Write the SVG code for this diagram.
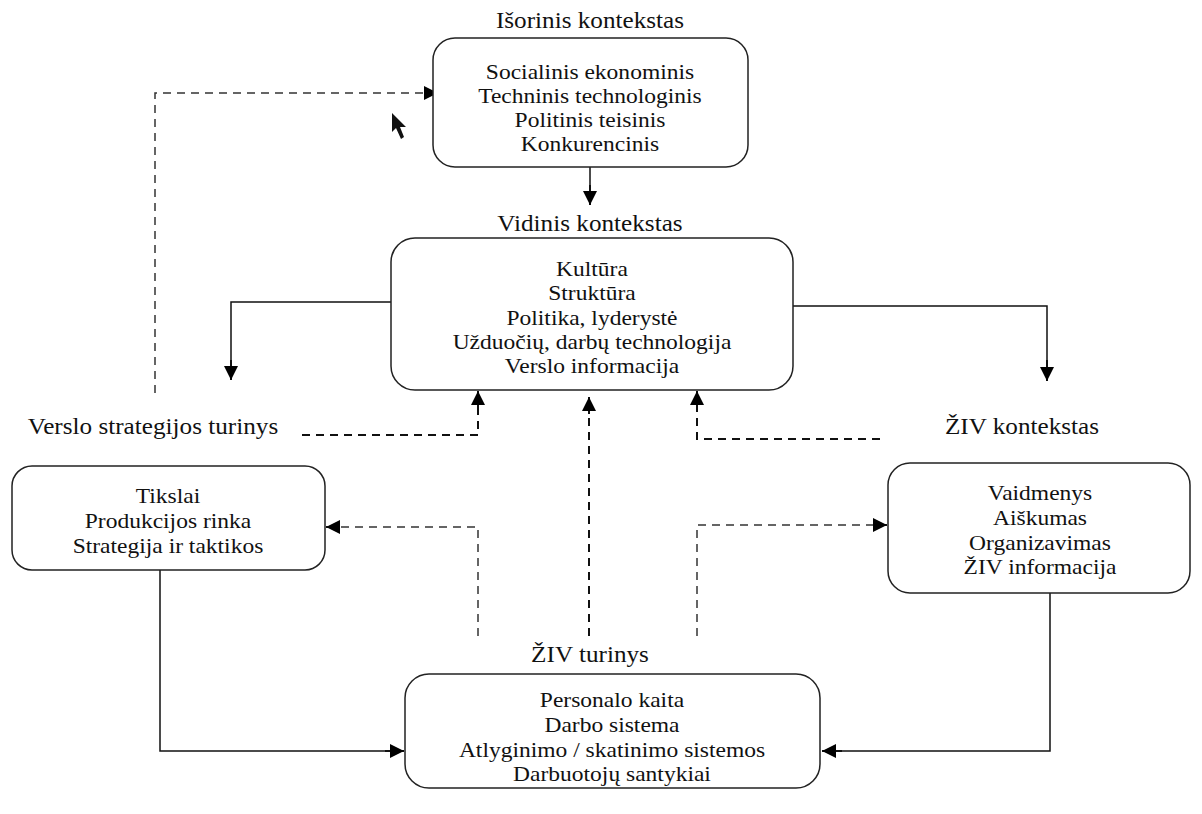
<svg xmlns="http://www.w3.org/2000/svg" width="1202" height="814" viewBox="0 0 1202 814">
<defs>
<marker id="ah" viewBox="0 0 10 10" refX="10" refY="5" markerWidth="14" markerHeight="14" markerUnits="userSpaceOnUse" orient="auto"><path d="M0,0 L10,5 L0,10 Z" fill="#000"/></marker>
</defs>
<style>
text{font-family:"Liberation Serif","Times New Roman",serif;font-size:21px;fill:#111;text-anchor:middle;transform-box:fill-box;transform-origin:center;transform:scaleX(1.12)}
.hd{font-size:22.5px}
.box{fill:#fff;stroke:#222;stroke-width:1.5}
.solid{fill:none;stroke:#111;stroke-width:1.5}
.arr{fill:none;stroke:#111;stroke-width:2;marker-end:url(#ah)}
.dash{fill:none;stroke:#111;stroke-width:2;stroke-dasharray:8,6}
.dashthin{fill:none;stroke:#333;stroke-width:1.5;stroke-dasharray:8,6}
</style>
<rect width="1202" height="814" fill="#fff"/>
<g id="connectors">
<path class="solid" d="M590,167 L590,190"/><path class="arr" d="M590,185 L590,205"/>
<path class="solid" d="M391,302 L231,302 L231,365"/><path class="arr" d="M231,360 L231,380"/>
<path class="solid" d="M793,306 L1047,306 L1047,366"/><path class="arr" d="M1047,360 L1047,381"/>
<path class="dashthin" d="M155,393 L155,93 L430,93"/><path class="arr" d="M425,93 L438,93"/>
<path class="dash" d="M302,435 L478,435 L478,405"/><path class="arr" d="M478,410 L478,391"/>
<path class="dash" d="M589,636 L589,410"/><path class="arr" d="M589,414 L589,397"/>
<path class="dash" d="M880,439 L697,439 L697,405"/><path class="arr" d="M697,410 L697,391"/>
<path class="dashthin" d="M478,636 L478,527 L340,527"/><path class="arr" d="M340,527 L326,527"/>
<path class="dashthin" d="M697,636 L697,525 L875,525"/><path class="arr" d="M873,525 L887,525"/>
<path class="solid" d="M160,570 L160,751 L390,751"/><path class="arr" d="M385,751 L404,751"/>
<path class="solid" d="M1050,593 L1050,751 L840,751"/><path class="arr" d="M842,751 L822,751"/>
</g>
<g id="cursor"><path d="M392,113 L392,132 L396,128 L401,139 L404,137 L400,127 L406,127 Z" fill="#111"/></g>
<g id="isorinis">
<text class="hd" x="590" y="28">Išorinis kontekstas</text>
<rect class="box" x="433" y="38" width="315" height="129" rx="22"/>
<text x="590" y="79">Socialinis ekonominis</text>
<text x="590" y="103">Techninis technologinis</text>
<text x="590" y="127">Politinis teisinis</text>
<text x="590" y="151">Konkurencinis</text>
</g>
<g id="vidinis">
<text class="hd" x="590" y="231">Vidinis kontekstas</text>
<rect class="box" x="391" y="238" width="402" height="152" rx="24"/>
<text x="592" y="276">Kultūra</text>
<text x="592" y="300">Struktūra</text>
<text x="592" y="325">Politika, lyderystė</text>
<text x="592" y="349">Užduočių, darbų technologija</text>
<text x="592" y="373">Verslo informacija</text>
</g>
<g id="verslo">
<text class="hd" x="153" y="434">Verslo strategijos turinys</text>
<rect class="box" x="12" y="466" width="313" height="104" rx="20"/>
<text x="168" y="503">Tikslai</text>
<text x="168" y="528">Produkcijos rinka</text>
<text x="168" y="553">Strategija ir taktikos</text>
</g>
<g id="ziv-kontekstas">
<text class="hd" x="1022" y="434">ŽIV kontekstas</text>
<rect class="box" x="888" y="463" width="302" height="130" rx="22"/>
<text x="1040" y="500">Vaidmenys</text>
<text x="1040" y="525">Aiškumas</text>
<text x="1040" y="550">Organizavimas</text>
<text x="1040" y="574">ŽIV informacija</text>
</g>
<g id="ziv-turinys">
<text class="hd" x="590" y="662">ŽIV turinys</text>
<rect class="box" x="405" y="674" width="415" height="114" rx="24"/>
<text x="612" y="707">Personalo kaita</text>
<text x="612" y="732">Darbo sistema</text>
<text x="612" y="757">Atlyginimo / skatinimo sistemos</text>
<text x="612" y="781">Darbuotojų santykiai</text>
</g>
</svg>
